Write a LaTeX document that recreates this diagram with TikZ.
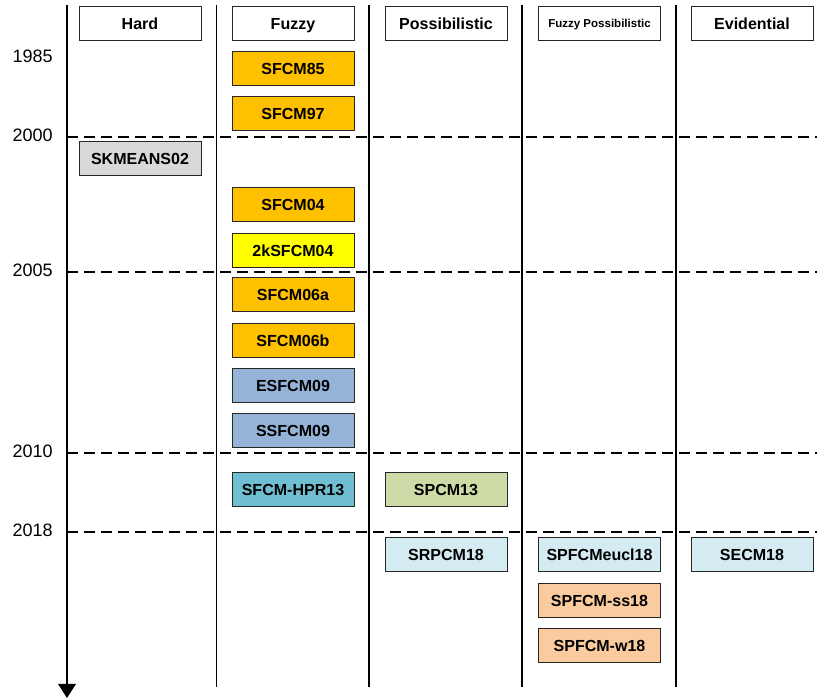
\documentclass[tikz,border=0pt]{standalone}
\usepackage{fontspec}
\setmainfont{Liberation Sans}
\usepackage{xcolor}
\usepackage{tikz}
\usetikzlibrary{calc, arrows.meta, positioning}

\definecolor{orangeF}{HTML}{FFC000}
\definecolor{yellowF}{HTML}{FFFF00}
\definecolor{blueF}{HTML}{95B3D7}
\definecolor{tealF}{HTML}{6FBED2}
\definecolor{greenP}{HTML}{CFDBA6}
\definecolor{lightB}{HTML}{D3EBF1}
\definecolor{peachFP}{HTML}{FACB9E}
\definecolor{greyH}{HTML}{D9D9D9}

\tikzset{
    algo/.style={draw=black!85, line width=0.7pt, minimum width=3.05cm, minimum height=0.85cm,
        inner sep=0pt, text height=8.2pt, text depth=0pt,
        font=\fontsize{11.4}{12}\selectfont\bfseries},
    head/.style={algo, fill=white},
    year/.style={anchor=east, inner sep=0pt, font=\fontsize{12.8}{14}\selectfont},
    sep/.style={line width=1.2pt},
    period/.style={line width=1.4pt, dash pattern=on 7.8pt off 4.3pt}
}

\begin{document}
\begin{tikzpicture}[>=latex, scale=1.0]
    \useasboundingbox (0,0) rectangle (20.425,17.5);

    % 1. Trục thời gian và các cột
    \draw[-{Triangle[width=12.5pt,length=10pt]}, line width=1.4pt] (1.675,17.375) -- (1.675,0.05);
    \draw[line width=0.7pt] (5.4,17.375) -- (5.4,0.325);
    \foreach \xs in {9.225, 13.05, 16.9}
        \draw[sep] (\xs,17.375) -- (\xs,0.325);

    % 2. Các mốc năm
    \foreach \yy/\nam in {14.075/2000, 10.7/2005, 6.175/2010, 4.2/2018}{
        \draw[period] (1.675,\yy) -- (20.425,\yy);
        \node[year] (y\nam) at (1.325,\yy+0.05) {\nam};
    }
    \node[year] (y1985) at (1.325,16.1) {1985};

    % 3. Tiêu đề các cột
    \node[head] (hard) at (3.5,16.91) {Hard};
    \node[head] (fuzzy) at (7.325,16.91) {Fuzzy};
    \node[head] (poss) at (11.15,16.91) {Possibilistic};
    \node[head, text height=5.9pt, font=\fontsize{8.2}{9}\selectfont\bfseries] (fposs) at (14.9875,16.91) {Fuzzy Possibilistic};
    \node[head] (evid) at (18.8,16.91) {Evidential};

    % 4. Các thuật toán
    \node[algo, fill=greyH] (skmeans02) at (3.5,13.525) {SKMEANS02};

    \node[algo, fill=orangeF] (sfcm85) at (7.325,15.775) {SFCM85};
    \node[algo, fill=orangeF] (sfcm97) at (7.325,14.65) {SFCM97};
    \node[algo, fill=orangeF] (sfcm04) at (7.325,12.3875) {SFCM04};
    \node[algo, fill=yellowF] (ksfcm04) at (7.325,11.2375) {2kSFCM04};
    \node[algo, fill=orangeF] (sfcm06a) at (7.325,10.125) {SFCM06a};
    \node[algo, fill=orangeF] (sfcm06b) at (7.325,8.9875) {SFCM06b};
    \node[algo, fill=blueF] (esfcm09) at (7.325,7.85) {ESFCM09};
    \node[algo, fill=blueF] (ssfcm09) at (7.325,6.725) {SSFCM09};
    \node[algo, fill=tealF] (hpr13) at (7.325,5.25) {SFCM-HPR13};

    \node[algo, fill=greenP] (spcm13) at (11.15,5.25) {SPCM13};
    \node[algo, fill=lightB] (srpcm18) at (11.15,3.625) {SRPCM18};

    \node[algo, fill=lightB] (eucl18) at (14.9875,3.625) {SPFCMeucl18};
    \node[algo, fill=peachFP] (ss18) at (14.9875,2.4875) {SPFCM-ss18};
    \node[algo, fill=peachFP] (w18) at (14.9875,1.3625) {SPFCM-w18};

    \node[algo, fill=lightB] (secm18) at (18.8,3.625) {SECM18};
\end{tikzpicture}
\end{document}
